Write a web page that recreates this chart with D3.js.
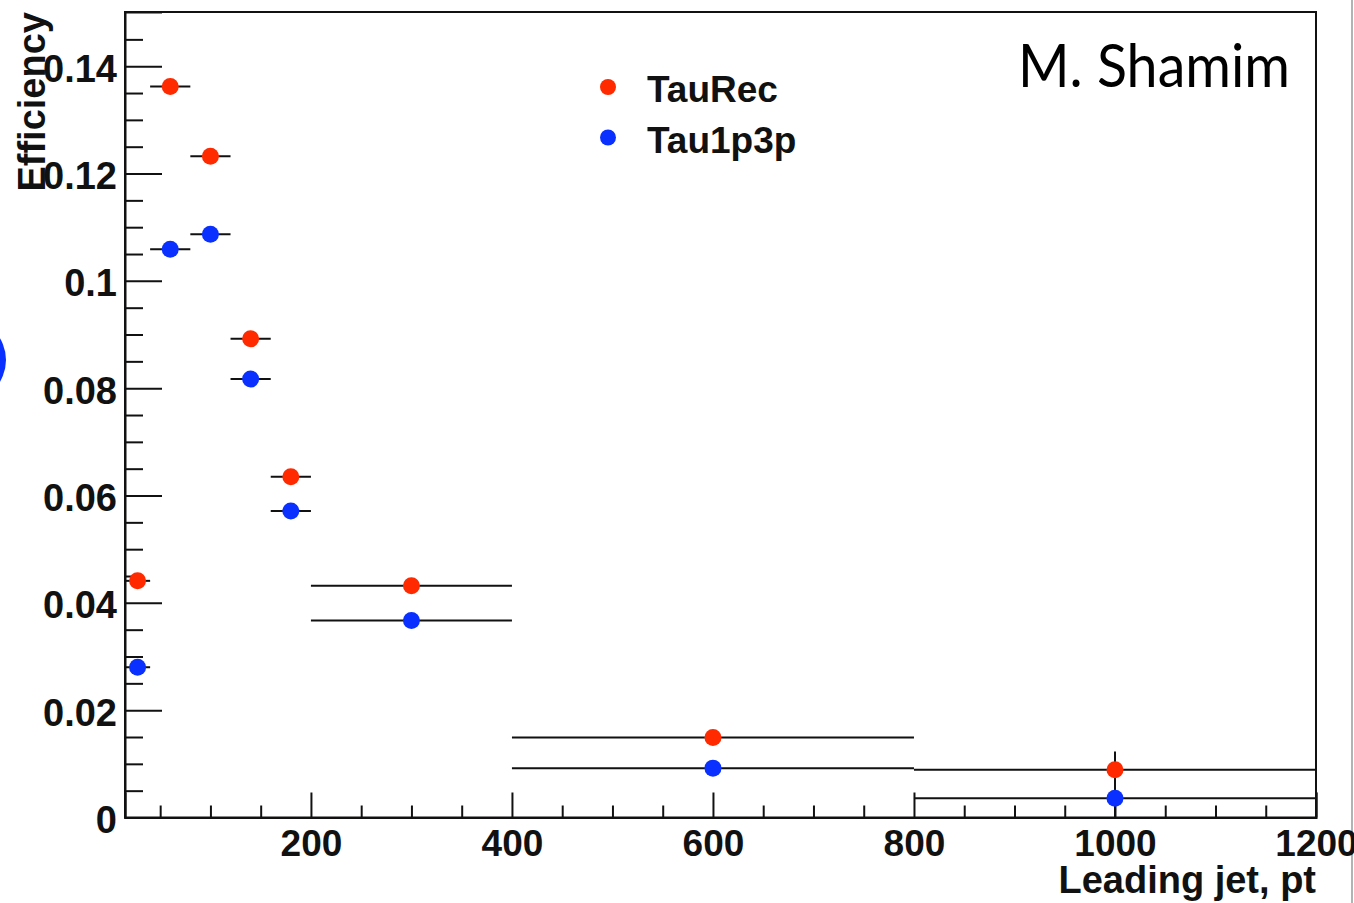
<!DOCTYPE html>
<html>
<head>
<meta charset="utf-8">
<script src="https://cdn.jsdelivr.net/npm/d3@7"></script>
<style>
  html, body { margin: 0; padding: 0; background: #fff; }
  #wrapper svg { display: block; }
  .tick-label, .axis-title, .legend-label {
    font-family: "Liberation Sans", Arial, Helvetica, sans-serif;
    font-weight: bold;
    fill: #111;
  }
</style>
</head>
<body>
<div id="wrapper"></div>
<script>
// bins in leading jet pt
const binLow = [15, 40, 80, 120, 160, 200, 400, 800]
const binHigh = [40, 80, 120, 160, 200, 400, 800, 1200]

// efficiencies
const tauRecValues = [0.0441, 0.1362, 0.1232, 0.0892, 0.0635, 0.0432, 0.0149, 0.0089]
const tauRecErrors = [0.0012, 0.0012, 0.0011, 0.0010, 0.0009, 0.0006, 0.0008, 0.0034]
const tau1p3pValues = [0.0280, 0.1059, 0.1087, 0.0817, 0.0571, 0.0367, 0.0092, 0.0036]
const tau1p3pErrors = [0.0011, 0.0011, 0.0010, 0.0009, 0.0008, 0.0005, 0.0007, 0.0036]

const seriesNames = ["TauRec", "Tau1p3p"]
const seriesColors = ["#ff2a00", "#0a30ff"]

const xTickValues = [200, 400, 600, 800, 1000, 1200]
const yTickValues = [0, 0.02, 0.04, 0.06, 0.08, 0.1, 0.12, 0.14]

function drawChart() {
  let dimensions = {
    width: 1354,
    height: 903,
    margin: {
      top: 12,
      right: 38,
      bottom: 85.5,
      left: 125,
    },
  }
  dimensions.boundedWidth = dimensions.width - dimensions.margin.left - dimensions.margin.right
  dimensions.boundedHeight = dimensions.height - dimensions.margin.top - dimensions.margin.bottom

  const wrapper = d3.select("#wrapper")
    .append("svg")
      .attr("width", dimensions.width)
      .attr("height", dimensions.height)

  // slide decorations: grey page edge and a bit of blue bullet on the left
  wrapper.append("line")
      .attr("x1", 1352).attr("x2", 1352)
      .attr("y1", 0).attr("y2", dimensions.height)
      .attr("stroke", "#9a9a9a")
      .attr("stroke-width", 1.5)
  wrapper.append("circle")
      .attr("cx", -36).attr("cy", 360).attr("r", 42)
      .attr("fill", "#0a30ff")

  const bounds = wrapper.append("g")
    .attr("transform", `translate(${dimensions.margin.left}, ${dimensions.margin.top})`)

  // scales
  const xScale = d3.scaleLinear()
    .domain([15, 1200])
    .range([0, dimensions.boundedWidth])

  const yScale = d3.scaleLinear()
    .domain([0, 0.1501])
    .range([dimensions.boundedHeight, 0])

  const series = [
    {name: seriesNames[0], color: seriesColors[0], values: tauRecValues, errors: tauRecErrors},
    {name: seriesNames[1], color: seriesColors[1], values: tau1p3pValues, errors: tau1p3pErrors},
  ]

  // axes: ROOT style, ticks pointing inwards
  const xMajor = d3.axisBottom(xScale)
    .tickValues(xTickValues)
    .tickSize(-25)
    .tickPadding(12)
    .tickFormat(d3.format("d"))
  const xMinor = d3.axisBottom(xScale)
    .tickValues(d3.range(50, 1200, 50).filter(d => d % 200 != 0))
    .tickSize(-12)
    .tickFormat("")

  const xAxis = bounds.append("g")
    .attr("transform", `translate(0, ${dimensions.boundedHeight})`)
    .call(xMajor)
  bounds.append("g")
    .attr("transform", `translate(0, ${dimensions.boundedHeight})`)
    .call(xMinor)
    .call(g => g.select(".domain").remove())

  xAxis.selectAll(".tick text")
      .attr("class", "tick-label")
      .attr("dy", 0)
      .attr("y", 38)
      .style("font-size", "37px")
      .attr("fill", "#111")

  const yMajor = d3.axisLeft(yScale)
    .tickValues(yTickValues)
    .tickSize(-37)
    .tickPadding(8)
    .tickFormat(d => d == 0 ? "0" : d3.format("")(+d.toFixed(2)))
  const yMinor = d3.axisLeft(yScale)
    .tickValues(d3.range(0.005, 0.15, 0.005).filter(d => Math.abs(d / 0.02 - Math.round(d / 0.02)) > 0.01))
    .tickSize(-18)
    .tickFormat("")

  const yAxis = bounds.append("g").call(yMajor)
  bounds.append("g").call(yMinor).call(g => g.select(".domain").remove())

  yAxis.selectAll(".tick text")
      .attr("class", "tick-label")
      .attr("dy", 0)
      .attr("y", 15)
      .attr("x", -8)
      .style("font-size", "38px")
      .attr("fill", "#111")

  bounds.selectAll(".domain").attr("stroke", "#111").attr("stroke-width", 2)
  bounds.selectAll(".tick line").attr("stroke", "#111").attr("stroke-width", 2)

  // frame
  bounds.append("rect")
      .attr("width", dimensions.boundedWidth)
      .attr("height", dimensions.boundedHeight)
      .attr("fill", "none")
      .attr("stroke", "#111")
      .attr("stroke-width", 2)

  // axis titles
  bounds.append("text")
      .attr("class", "axis-title")
      .attr("x", dimensions.boundedWidth)
      .attr("y", dimensions.boundedHeight + 75)
      .attr("text-anchor", "end")
      .style("font-size", "38px")
      .text("Leading jet, pt")

  wrapper.append("text")
      .attr("class", "axis-title")
      .attr("transform", `translate(45, ${dimensions.margin.top}) rotate(-90)`)
      .attr("text-anchor", "end")
      .style("font-size", "38px")
      .text("Efficiency")

  // error bars and markers
  const clipY = v => Math.max(0, v)
  series.forEach(s => {
    const g = bounds.append("g")
    const idx = d3.range(s.values.length)

    g.selectAll(".xerr")
      .data(idx)
      .enter().append("line")
        .attr("x1", i => xScale(binLow[i]))
        .attr("x2", i => xScale(binHigh[i]))
        .attr("y1", i => yScale(s.values[i]))
        .attr("y2", i => yScale(s.values[i]))
        .attr("stroke", "#111")
        .attr("stroke-width", 2)

    g.selectAll(".yerr")
      .data(idx)
      .enter().append("line")
        .attr("x1", i => xScale((binLow[i] + binHigh[i]) / 2))
        .attr("x2", i => xScale((binLow[i] + binHigh[i]) / 2))
        .attr("y1", i => yScale(s.values[i] + s.errors[i]))
        .attr("y2", i => yScale(clipY(s.values[i] - s.errors[i])))
        .attr("stroke", "#111")
        .attr("stroke-width", 2)

    g.selectAll(".dot")
      .data(idx)
      .enter().append("circle")
        .attr("cx", i => xScale((binLow[i] + binHigh[i]) / 2))
        .attr("cy", i => yScale(s.values[i]))
        .attr("r", 8.5)
        .attr("fill", s.color)
  })

  // legend
  const legend = wrapper.append("g")
    .attr("transform", "translate(608, 87)")
  const legendItems = legend.selectAll(".legend-item")
    .data(series)
    .enter().append("g")
      .attr("transform", (d, i) => `translate(0, ${i * 50.5})`)
  legendItems.append("circle")
      .attr("r", 8)
      .attr("fill", d => d.color)
  legendItems.append("text")
      .attr("class", "legend-label")
      .attr("x", 39)
      .attr("y", 15)
      .style("font-size", "37px")
      .text(d => d.name)

  // author label
  wrapper.append("text")
      .attr("x", 1018)
      .attr("y", 87)
      .attr("textLength", 272)
      .attr("lengthAdjust", "spacingAndGlyphs")
      .style("font-family", "Lato, 'Open Sans', sans-serif")
      .style("font-size", "60px")
      .attr("fill", "#000")
      .text("M. Shamim")
}
drawChart()
</script>
</body>
</html>
